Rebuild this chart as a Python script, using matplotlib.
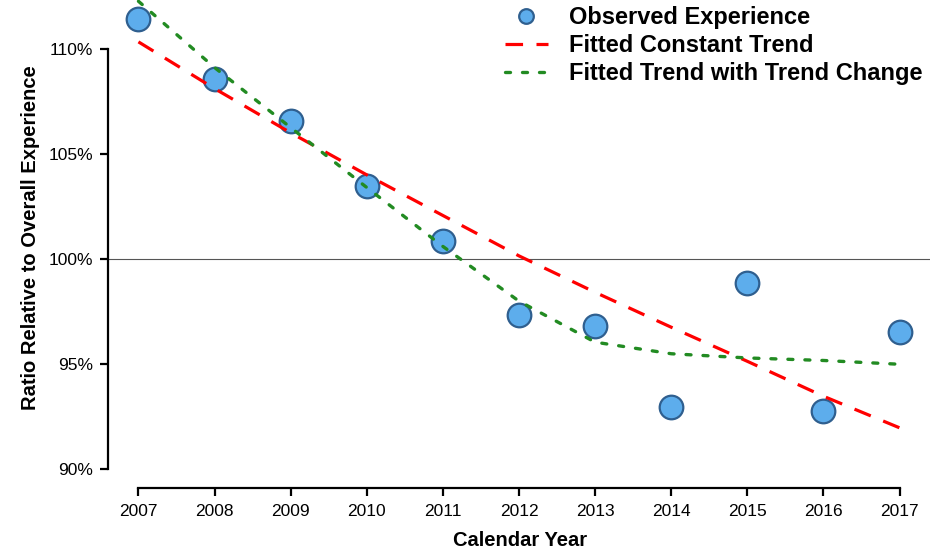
import matplotlib
matplotlib.use('Agg')
import numpy as np
from matplotlib import pyplot as plt
from matplotlib.ticker import FuncFormatter

# ratios relative to overall experience, in percent
years = [2007, 2008, 2009, 2010, 2011, 2012, 2013, 2014, 2015, 2016, 2017]
observed = [111.43, 108.56, 106.58, 103.46, 100.88, 97.36, 96.81, 92.98, 98.87, 92.76, 96.52]
constant_trend = [110.32, 108.1, 106.0, 104.0, 102.07, 100.15, 98.42, 96.76, 95.14, 93.48, 91.98]
trend_change = [112.25, 109.1, 106.25, 103.4, 100.6, 98.0, 96.05, 95.5, 95.3, 95.18, 95.0]
y_ticks = [90, 95, 100, 105, 110]

plt.rcParams['font.family'] = ['Liberation Sans', 'DejaVu Sans']

W, H = 936, 551
fig = plt.figure(figsize=(W / 100, H / 100), dpi=100)
# plot region in pixels: left 108, right 930, bottom 488, top -12 (runs past the top edge)
ax = fig.add_axes([108 / W, (H - 488) / H, 822 / W, 500 / H])
ax.set_xlim(2006.6, 2017.4)
ax.set_ylim(89.12, 112.88)

ax.axhline(100, color='#555555', lw=0.8, zorder=1)

ax.plot(years, observed, 'o', ms=17, mfc='#5dadec', mec='#2f5f8f', mew=1.6,
        label='Observed Experience', zorder=2, clip_on=False)
ax.plot(years, constant_trend, color='red', lw=2.3, dashes=(5.5, 4.2),
        label='Fitted Constant Trend', zorder=3, clip_on=False)
ax.plot(years, trend_change, color='#228b22', lw=2.4, dashes=(1.5, 3.6),
        dash_capstyle='round', label='Fitted Trend with Trend Change',
        zorder=3, clip_on=False)

# axes drawn R style: only over the tick range
for side in ['top', 'right']:
    ax.spines[side].set_visible(False)
ax.spines['left'].set_bounds(90, 110)
ax.spines['bottom'].set_bounds(2007, 2017)
ax.spines['left'].set_linewidth(1.6)
ax.spines['bottom'].set_linewidth(1.6)

ax.set_xticks(years)
ax.set_yticks(y_ticks)
ax.yaxis.set_major_formatter(FuncFormatter(lambda v, p: '{:.0f}%'.format(v)))
ax.tick_params(axis='both', length=5.5, width=1.6, labelsize=12.5, colors='black')
ax.tick_params(axis='x', pad=6)
ax.tick_params(axis='y', pad=5)

ax.set_xlabel('Calendar Year', fontsize=14.5, fontweight='bold')
ax.set_ylabel('Ratio Relative to Overall Experience', fontsize=14.5, fontweight='bold')
ax.xaxis.set_label_coords(412 / 822, -(541 - 488) / 500)
ax.yaxis.set_label_coords(-(108 - 31) / 822, 0.5)
ax.xaxis.label.set_va('center')
ax.yaxis.label.set_va('center')

leg = fig.legend(loc='upper left', bbox_to_anchor=(505 / W, 1 - 6 / H),
                 frameon=False, fontsize=17, markerscale=0.62,
                 handlelength=1.8, handletextpad=0.9, labelspacing=0.22,
                 borderpad=0, borderaxespad=0)
for t in leg.get_texts():
    t.set_fontweight('bold')

fig.savefig('out.png', dpi=100)
